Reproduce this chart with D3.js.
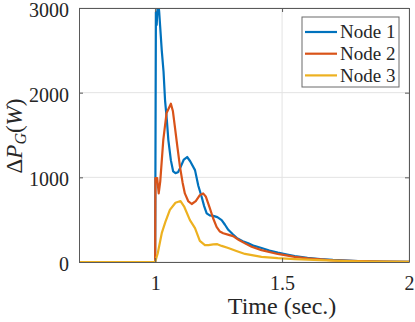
<!DOCTYPE html>
<html>
<head>
<meta charset="utf-8">
<script src="https://cdn.jsdelivr.net/npm/d3@7"></script>
<style>
  body { margin: 0; background: #fff; }
  svg { display: block; }
  text { font-family: "Liberation Serif", "DejaVu Serif", serif; fill: #262626; }
</style>
</head>
<body>
<div id="chart"></div>
<script>
// series names and colours
var seriesNames = ['Node 1', 'Node 2', 'Node 3'];
var seriesColors = ['#0072BD', '#D95319', '#EDB120'];

// [time (s), delta P_G (W)]
var node1 = [
  [0.7, 0], [1.0, 0], [1.003, 2950], [1.006, 2800], [1.011, 3100], [1.016, 2950],
  [1.026, 2500], [1.033, 2250], [1.039, 1910], [1.046, 1680], [1.052, 1440],
  [1.062, 1200], [1.071, 1070], [1.080, 1050], [1.090, 1060], [1.100, 1120],
  [1.113, 1210], [1.126, 1240], [1.138, 1190], [1.157, 1085], [1.170, 900],
  [1.183, 770], [1.193, 660], [1.203, 575], [1.215, 550], [1.229, 545],
  [1.245, 530], [1.262, 495], [1.275, 440], [1.288, 380], [1.305, 330],
  [1.321, 285], [1.345, 245], [1.367, 220], [1.39, 190], [1.419, 165],
  [1.45, 135], [1.483, 110], [1.52, 88], [1.55, 70], [1.6, 50], [1.65, 35],
  [1.7, 25], [1.8, 12], [1.9, 6], [2.0, 3]
];
var node2 = [
  [0.7, 0], [1.0, 0], [1.001, 990], [1.008, 990], [1.014, 810], [1.02, 950],
  [1.032, 1440], [1.045, 1760], [1.062, 1870], [1.07, 1780], [1.078, 1590],
  [1.088, 1350], [1.098, 1120], [1.108, 940], [1.117, 810], [1.13, 720],
  [1.144, 685], [1.16, 720], [1.176, 790], [1.189, 810], [1.2, 770],
  [1.215, 640], [1.228, 520], [1.242, 415], [1.255, 360], [1.268, 340],
  [1.29, 320], [1.307, 305], [1.33, 260], [1.354, 220], [1.38, 180],
  [1.419, 140], [1.483, 95], [1.55, 60], [1.6, 42], [1.65, 30], [1.7, 20],
  [1.8, 10], [1.9, 5], [2.0, 2]
];
var node3 = [
  [0.7, 0], [1.0, 0], [1.003, 30], [1.01, 100], [1.026, 340], [1.04, 470],
  [1.058, 615], [1.08, 700], [1.10, 720], [1.115, 650], [1.137, 495],
  [1.157, 400], [1.176, 250], [1.196, 200], [1.21, 200], [1.229, 208],
  [1.245, 210], [1.262, 190], [1.288, 165], [1.32, 130], [1.354, 95],
  [1.419, 60], [1.483, 45], [1.55, 35], [1.65, 22], [1.75, 12], [1.85, 6],
  [2.0, 3]
];

// tick values
var xTicks = [1, 1.5, 2];
var yTicks = [0, 1000, 2000, 3000];

var W = 415, H = 322;
var margin = { top: 8, right: 6, bottom: 60, left: 79 };
var width = W - margin.left - margin.right;
var height = H - margin.top - margin.bottom;

var svg = d3.select('#chart').append('svg')
  .attr('width', W)
  .attr('height', H);

var g = svg.append('g')
  .attr('transform', 'translate(' + margin.left + ',' + margin.top + ')');

var x = d3.scaleLinear().domain([0.7, 2]).range([0, width]);
var y = d3.scaleLinear().domain([0, 3000]).range([height, 0]);

// grid
g.append('g').attr('class', 'grid-x')
  .selectAll('line').data(xTicks).enter().append('line')
  .attr('x1', function (d) { return x(d); }).attr('x2', function (d) { return x(d); })
  .attr('y1', 0).attr('y2', height)
  .attr('stroke', '#e3e3e3').attr('stroke-width', 1);
g.append('g').attr('class', 'grid-y')
  .selectAll('line').data(yTicks).enter().append('line')
  .attr('x1', 0).attr('x2', width)
  .attr('y1', function (d) { return y(d); }).attr('y2', function (d) { return y(d); })
  .attr('stroke', '#e3e3e3').attr('stroke-width', 1);

// lines, clipped to the axes box
g.append('clipPath').attr('id', 'clip')
  .append('rect').attr('width', width).attr('height', height);

var line = d3.line()
  .x(function (d) { return x(d[0]); })
  .y(function (d) { return y(d[1]); });

var allSeries = [node1, node2, node3];
g.append('g').attr('clip-path', 'url(#clip)')
  .selectAll('path').data(allSeries).enter().append('path')
  .attr('d', line)
  .attr('fill', 'none')
  .attr('stroke', function (d, i) { return seriesColors[i]; })
  .attr('stroke-width', 2.2)
  .attr('stroke-linejoin', 'round');

// axes (ticks pointing inward, MATLAB style)
var axisColor = '#5a5a5a';
var plain = function (d) { return String(d); };
var xAxis = g.append('g')
  .attr('transform', 'translate(0,' + height + ')')
  .call(d3.axisBottom(x).tickValues(xTicks).tickFormat(plain).tickSizeInner(-4).tickSizeOuter(0).tickPadding(14));
var yAxis = g.append('g')
  .call(d3.axisLeft(y).tickValues(yTicks).tickFormat(plain).tickSizeInner(-4).tickSizeOuter(0).tickPadding(10));
var xTop = g.append('g')
  .call(d3.axisTop(x).tickValues(xTicks).tickSizeInner(-4).tickSizeOuter(0).tickFormat(''));
var yRight = g.append('g')
  .attr('transform', 'translate(' + width + ',0)')
  .call(d3.axisRight(y).tickValues(yTicks).tickSizeInner(-4).tickSizeOuter(0).tickFormat(''));

[xAxis, yAxis, xTop, yRight].forEach(function (a) {
  a.select('.domain').attr('stroke', axisColor);
  a.selectAll('.tick line').attr('stroke', axisColor);
  a.selectAll('.tick text')
    .attr('fill', '#262626')
    .style('font-family', '"Liberation Serif", serif')
    .style('font-size', '20px');
});
// y labels sit a touch below their tick, as in the original
yAxis.selectAll('.tick text').attr('dy', '0.42em');

// axis labels
svg.append('text')
  .attr('x', margin.left + x(1.5))
  .attr('y', 314)
  .attr('text-anchor', 'middle')
  .style('font-size', '24px')
  .text('Time (sec.)');

var yl = svg.append('text')
  .attr('transform', 'translate(22,' + 136 + ') rotate(-90)')
  .attr('text-anchor', 'middle')
  .style('font-size', '23px');
yl.append('tspan').text('\u0394');
yl.append('tspan').style('font-style', 'italic').text('P');
yl.append('tspan').style('font-style', 'italic').style('font-size', '16px').attr('dy', 4).text('G');
yl.append('tspan').attr('dy', -4).text('(');
yl.append('tspan').style('font-style', 'italic').text('W');
yl.append('tspan').text(')');

// legend
var legend = svg.append('g').attr('transform', 'translate(302,17)');
legend.append('rect')
  .attr('width', 97).attr('height', 70)
  .attr('fill', '#fff').attr('stroke', '#6a6a6a').attr('stroke-width', 1);
var items = legend.selectAll('g.item').data(seriesNames).enter().append('g')
  .attr('class', 'item')
  .attr('transform', function (d, i) { return 'translate(0,' + (15 + i * 21.7) + ')'; });
items.append('line')
  .attr('x1', 3).attr('x2', 35)
  .attr('stroke', function (d, i) { return seriesColors[i]; })
  .attr('stroke-width', 2.2);
items.append('text')
  .attr('x', 38).attr('dy', '0.33em')
  .style('font-size', '19px')
  .text(function (d) { return d; });
</script>
</body>
</html>
